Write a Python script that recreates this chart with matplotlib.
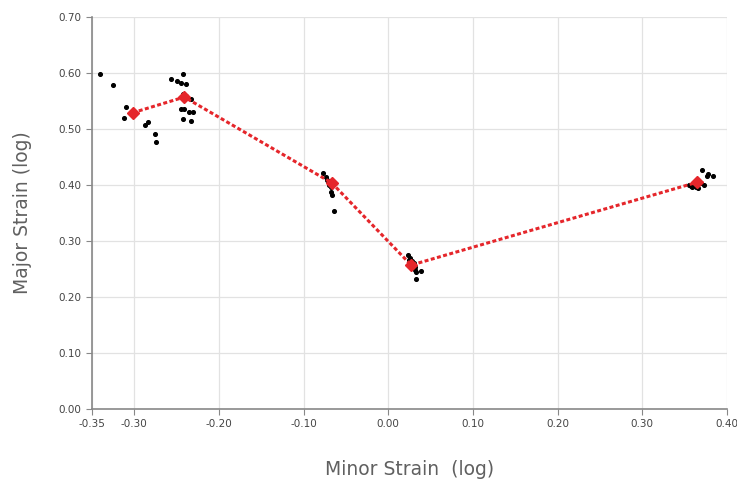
import matplotlib
matplotlib.use("Agg")
import matplotlib.pyplot as plt
from matplotlib import font_manager

# measured points (minor strain, major strain)
minor = [-0.341, -0.325, -0.310, -0.312, -0.287, -0.284, -0.276, -0.274,
         -0.257, -0.243, -0.249, -0.245, -0.239, -0.242, -0.239, -0.233,
         -0.245, -0.241, -0.235, -0.231, -0.243, -0.233,
         -0.077, -0.074, -0.072, -0.070, -0.068, -0.068, -0.067, -0.064, -0.070, -0.066,
         0.023, 0.026, 0.028, 0.030, 0.032, 0.033, 0.039, 0.033, 0.024, 0.031,
         0.371, 0.378, 0.383, 0.376, 0.355, 0.359, 0.363, 0.369, 0.373, 0.357, 0.366]
major = [0.598, 0.579, 0.540, 0.519, 0.508, 0.512, 0.491, 0.477,
         0.590, 0.599, 0.586, 0.583, 0.580, 0.562, 0.559, 0.554,
         0.535, 0.535, 0.531, 0.531, 0.517, 0.515,
         0.421, 0.415, 0.409, 0.403, 0.397, 0.388, 0.382, 0.354, 0.400, 0.402,
         0.275, 0.269, 0.265, 0.260, 0.254, 0.245, 0.247, 0.233, 0.266, 0.249,
         0.427, 0.420, 0.416, 0.416, 0.400, 0.396, 0.397, 0.403, 0.400, 0.398, 0.394]

# mean path
path_minor = [-0.302, -0.241, -0.067, 0.027, 0.365]
path_major = [0.529, 0.557, 0.404, 0.257, 0.405]

xticks = [-0.35, -0.30, -0.20, -0.10, 0.00, 0.10, 0.20, 0.30, 0.40]
yticks = [0.0, 0.1, 0.2, 0.3, 0.4, 0.5, 0.6, 0.7]

# narrow font if the box has one
names = set(f.name for f in font_manager.fontManager.ttflist)
fam = ['Liberation Sans Narrow'] if 'Liberation Sans Narrow' in names else []
plt.rcParams['font.family'] = fam + ['DejaVu Sans']

fig = plt.figure(figsize=(7.37, 4.83), dpi=100)
ax = fig.add_axes([0.1248, 0.1532, 0.8616, 0.8116])

ax.scatter(minor, major, s=7, color='black', zorder=3)
ax.plot(path_minor, path_major, linestyle=(0, (1.3, 0.8)), lw=2.2, color='#e5262b',
        marker='D', markersize=6, zorder=4)

ax.set_xlim(-0.35, 0.40)
ax.set_ylim(0.0, 0.70)
ax.set_xticks(xticks)
ax.set_yticks(yticks)
ax.set_xticklabels(['%.2f' % v for v in xticks])
ax.set_yticklabels(['%.2f' % v for v in yticks])
ax.tick_params(direction='out', length=4, color='#888888', labelsize=7.5, labelcolor='#444444')

ax.grid(True, color='#e2e2e2', lw=0.9)
ax.set_axisbelow(True)
for s in ['top', 'right']:
    ax.spines[s].set_visible(False)
for s in ['left', 'bottom']:
    ax.spines[s].set_color('#888888')
    ax.spines[s].set_linewidth(1.2)

ax.set_xlabel('Minor Strain  (log)', fontsize=13.5, color='#606060', labelpad=22)
ax.set_ylabel('Major Strain (log)', fontsize=13.5, color='#606060', labelpad=19)

fig.savefig('out.png', dpi=100)
